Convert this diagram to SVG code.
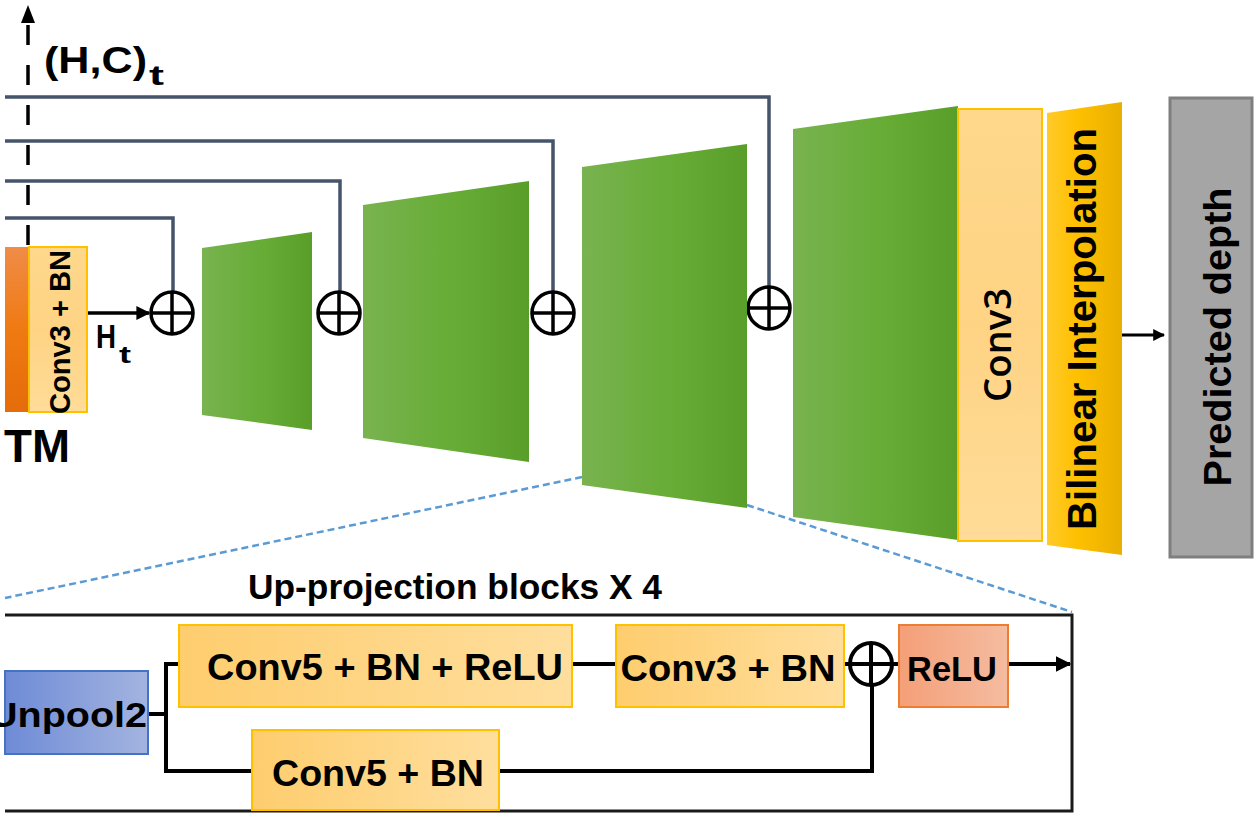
<svg xmlns="http://www.w3.org/2000/svg" width="1255" height="814" viewBox="0 0 1255 814">
<defs>
  <linearGradient id="gGreen" x1="0" y1="0" x2="1" y2="0">
    <stop offset="0" stop-color="#79B350"/>
    <stop offset="0.55" stop-color="#66AC35"/>
    <stop offset="1" stop-color="#5A9E2A"/>
  </linearGradient>
  <linearGradient id="gOrange" x1="0" y1="0" x2="0" y2="1">
    <stop offset="0" stop-color="#EF8C48"/>
    <stop offset="0.5" stop-color="#F07A12"/>
    <stop offset="1" stop-color="#E46C0A"/>
  </linearGradient>
  <linearGradient id="gYellow" x1="0" y1="0" x2="1" y2="0">
    <stop offset="0" stop-color="#FECD6E"/>
    <stop offset="1" stop-color="#FFDE9D"/>
  </linearGradient>
  <linearGradient id="gPeach" x1="0" y1="0" x2="0" y2="1">
    <stop offset="0" stop-color="#FFD88C"/>
    <stop offset="0.5" stop-color="#FED384"/>
    <stop offset="1" stop-color="#FFDC98"/>
  </linearGradient>
  <linearGradient id="gGold" x1="0" y1="0" x2="1" y2="0">
    <stop offset="0" stop-color="#FFCA2A"/>
    <stop offset="0.4" stop-color="#FFC000"/>
    <stop offset="1" stop-color="#E9AF00"/>
  </linearGradient>
  <linearGradient id="gBlue" x1="0" y1="0" x2="1" y2="0">
    <stop offset="0" stop-color="#6E8BD6"/>
    <stop offset="1" stop-color="#A4B4E0"/>
  </linearGradient>
  <linearGradient id="gRelu" x1="0" y1="0" x2="1" y2="0">
    <stop offset="0" stop-color="#F49F78"/>
    <stop offset="1" stop-color="#F5BCA0"/>
  </linearGradient>
  <marker id="arr" viewBox="0 0 10 10" refX="9" refY="5" markerWidth="4" markerHeight="4" orient="auto" markerUnits="strokeWidth">
    <path d="M0,0 L10,5 L0,10 z" fill="#000"/>
  </marker>
</defs>
<style>
  text { font-family: "Liberation Sans", Arial, sans-serif; fill: #000; }
  .b { font-weight: bold; }
  .semi { font-family: "Open Sans", "Liberation Sans", Arial, sans-serif; font-weight: 600; }
  .skip { fill: none; stroke: #44546A; stroke-width: 3.5; }
  .blk { fill: none; stroke: #000; stroke-width: 4; }
  .zoomln { fill: none; stroke: #5B9BD5; stroke-width: 2.5; stroke-dasharray: 7 4; }
  .sum circle { fill: #fff; stroke: #000; stroke-width: 3.5; }
  .sum line { stroke: #000; stroke-width: 3.5; }
  .green { fill: url(#gGreen); }
  .ybox { fill: url(#gYellow); stroke: #FFC000; stroke-width: 2; }
</style>

<g id="connectors">
  <path class="skip" d="M5,218 H173 V292"/>
  <path class="skip" d="M5,181 H340 V292"/>
  <path class="skip" d="M5,141 H553 V292"/>
  <path class="skip" d="M5,97 H769 V287"/>
  <line x1="28" y1="245" x2="28" y2="22" stroke="#000" stroke-width="3.5" stroke-dasharray="20 20"/>
  <polygon points="28,5 21,23 35,23" fill="#000"/>
  <line x1="87" y1="313" x2="149" y2="313" stroke="#000" stroke-width="3.5" marker-end="url(#arr)"/>
  <line x1="1122" y1="335" x2="1164" y2="335" stroke="#000" stroke-width="3" marker-end="url(#arr)"/>
  <line class="zoomln" x1="582" y1="477" x2="5" y2="598"/>
  <line class="zoomln" x1="747" y1="505" x2="1072" y2="612"/>
  <path class="blk" d="M148,714 H166"/>
  <path class="blk" d="M179,664 H166 V771 H252"/>
  <path class="blk" d="M572,664 H616"/>
  <path class="blk" d="M844,664 H850"/>
  <path class="blk" d="M892,664 H899"/>
  <path class="blk" d="M499,771 H872 V686"/>
  <line x1="1008" y1="664" x2="1070" y2="664" stroke="#000" stroke-width="4" marker-end="url(#arr)"/>
</g>

<g id="lstm">
  <rect x="5" y="247" width="24" height="165" fill="url(#gOrange)"/>
  <text class="b" x="4" y="462" font-size="46" textLength="66" lengthAdjust="spacingAndGlyphs">TM</text>
</g>

<g id="conv3bn-top">
  <rect x="29" y="247" width="58" height="165" fill="url(#gPeach)" stroke="#FFC000" stroke-width="2"/>
  <text class="b" transform="translate(60,332) rotate(-90)" x="0" y="10" font-size="29" text-anchor="middle" textLength="164" lengthAdjust="spacingAndGlyphs">Conv3 + BN</text>
</g>

<g id="labels-top">
  <text class="b" x="44" y="73" font-size="37" textLength="103" lengthAdjust="spacingAndGlyphs">(H,C)</text>
  <text class="b" x="149" y="85" font-size="28" textLength="15" lengthAdjust="spacingAndGlyphs">t</text>
  <text class="b" x="96" y="348" font-size="33" textLength="20" lengthAdjust="spacingAndGlyphs">H</text>
  <text class="b" x="119" y="363" font-size="24" textLength="12" lengthAdjust="spacingAndGlyphs">t</text>
</g>

<g id="sum1" class="sum">
  <circle cx="172" cy="313" r="21"/>
  <line x1="151" y1="313" x2="193" y2="313"/><line x1="172" y1="292" x2="172" y2="334"/>
</g>
<g id="sum2" class="sum">
  <circle cx="339" cy="313" r="21"/>
  <line x1="318" y1="313" x2="360" y2="313"/><line x1="339" y1="292" x2="339" y2="334"/>
</g>
<g id="sum3" class="sum">
  <circle cx="553" cy="313" r="21"/>
  <line x1="532" y1="313" x2="574" y2="313"/><line x1="553" y1="292" x2="553" y2="334"/>
</g>
<g id="sum4" class="sum">
  <circle cx="769" cy="308" r="21"/>
  <line x1="748" y1="308" x2="790" y2="308"/><line x1="769" y1="287" x2="769" y2="329"/>
</g>

<g id="up1"><polygon class="green" points="202,248 312,232 312,430 202,415"/></g>
<g id="up2"><polygon class="green" points="363,205 529,181 529,462 363,438"/></g>
<g id="up3"><polygon class="green" points="582,167 747,144 747,508 582,485"/></g>
<g id="up4"><polygon class="green" points="793,129 958,106 958,540 793,517"/></g>

<g id="conv3">
  <rect x="958" y="109" width="84" height="432" fill="url(#gPeach)" stroke="#FFC000" stroke-width="2"/>
  <text class="semi" transform="translate(997,345) rotate(-90)" x="0" y="14" font-size="38" text-anchor="middle" textLength="114" lengthAdjust="spacingAndGlyphs">Conv3</text>
</g>

<g id="bilinear">
  <polygon points="1047,113 1122,102 1122,555 1047,545" fill="url(#gGold)"/>
  <text class="b" transform="translate(1082,329) rotate(-90)" x="0" y="14" font-size="40" text-anchor="middle" textLength="402" lengthAdjust="spacingAndGlyphs">Bilinear Interpolation</text>
</g>

<g id="predicted">
  <rect x="1170" y="98" width="82" height="459" fill="#A5A5A5" stroke="#7F7F7F" stroke-width="3"/>
  <text class="b" transform="translate(1217,337) rotate(-90)" x="0" y="14" font-size="39" text-anchor="middle" textLength="299" lengthAdjust="spacingAndGlyphs">Predicted depth</text>
</g>

<g id="upproj-frame">
  <path d="M5,615 H1072 V811 H5" fill="none" stroke="#1a1a1a" stroke-width="3"/>
  <text class="b" x="455" y="599" font-size="35" text-anchor="middle" textLength="414" lengthAdjust="spacingAndGlyphs">Up-projection blocks X 4</text>
</g>

<g id="unpool2">
  <rect x="5" y="671" width="143" height="83" fill="url(#gBlue)" stroke="#4472C4" stroke-width="2"/>
  <text class="b" x="147" y="727" font-size="35" text-anchor="end" textLength="158" lengthAdjust="spacingAndGlyphs">Unpool2</text>
</g>

<g id="conv5bnrelu">
  <rect class="ybox" x="179" y="625" width="393" height="82"/>
  <text class="b" x="385" y="680" font-size="37" text-anchor="middle" textLength="356" lengthAdjust="spacingAndGlyphs">Conv5 + BN + ReLU</text>
</g>

<g id="conv3bn">
  <rect class="ybox" x="616" y="625" width="228" height="82"/>
  <text class="b" x="728" y="681" font-size="37" text-anchor="middle" textLength="215" lengthAdjust="spacingAndGlyphs">Conv3 + BN</text>
</g>

<g id="sum5" class="sum">
  <circle cx="871" cy="664" r="21" style="stroke-width:4"/>
  <line x1="850" y1="664" x2="892" y2="664" style="stroke-width:4"/><line x1="871" y1="643" x2="871" y2="685" style="stroke-width:4"/>
</g>

<g id="relu">
  <rect x="899" y="625" width="109" height="82" fill="url(#gRelu)" stroke="#ED7D31" stroke-width="2"/>
  <text class="b" x="952" y="681" font-size="35" text-anchor="middle" textLength="90" lengthAdjust="spacingAndGlyphs">ReLU</text>
</g>

<g id="conv5bn">
  <rect class="ybox" x="252" y="730" width="247" height="80"/>
  <text class="b" x="378" y="786" font-size="37" text-anchor="middle" textLength="212" lengthAdjust="spacingAndGlyphs">Conv5 + BN</text>
</g>
</svg>
